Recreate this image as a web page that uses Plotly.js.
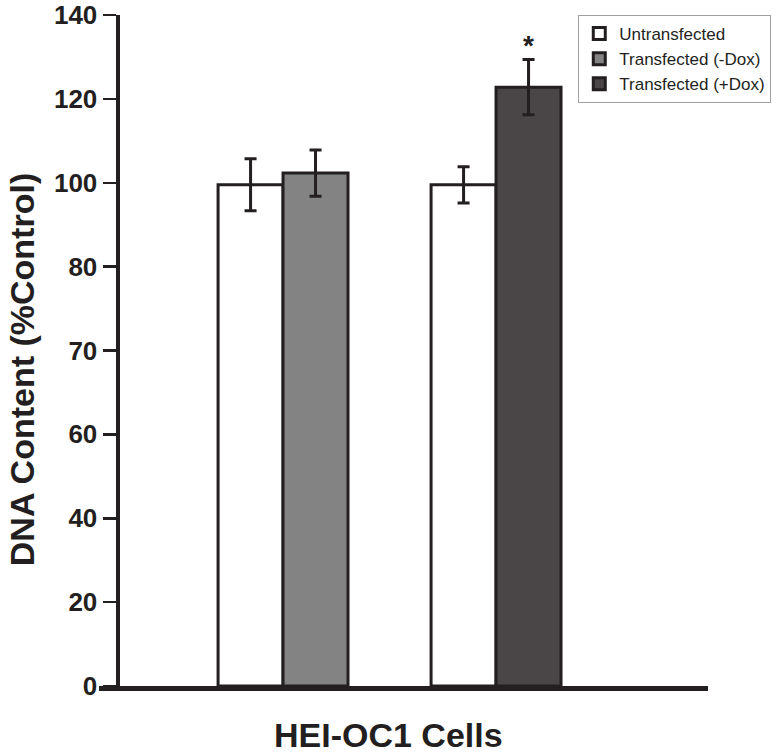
<!DOCTYPE html>
<html>
<head>
<meta charset="utf-8">
<script src="https://cdn.plot.ly/plotly-3.0.1.min.js"></script>
<style>html,body{margin:0;padding:0;background:#fff;}#chart{width:777px;height:755px;}</style>
</head>
<body>
<div id="chart"></div>
<script>
// ---- data ----
const GROUPS = ["Set 1", "Set 2"];
const UNTRANSFECTED = [99.5, 99.5];
const UNTRANSFECTED_ERR = [6.2, 4.3];
const TRANSFECTED_MINUS_DOX = [102.3];
const TRANSFECTED_MINUS_DOX_ERR = [5.5];
const TRANSFECTED_PLUS_DOX = [122.8];
const TRANSFECTED_PLUS_DOX_ERR = [6.6];
const SERIES_NAMES = ["Untransfected", "Transfected (-Dox)", "Transfected (+Dox)"];
// tick labels as printed on the original axis (evenly spaced, top to bottom)
const TICK_LABELS = ["140", "120", "100", "80", "70", "60", "40", "20", "0"];
const SIGNIFICANCE = "*";

// ---- styling ----
const INK = "#231f20";
const AXIS_TOP = 140, TICK_STEP = 20;
const AXIS_FLOOR = AXIS_TOP - TICK_STEP * (TICK_LABELS.length - 1);
const TICK_POS = TICK_LABELS.map((_, i) => AXIS_TOP - TICK_STEP * i);
const BW = 0.305;
const FONT = "Liberation Sans, Arial, sans-serif";

function barTrace(name, xs, vals, errs, fill, offset, grp) {
  return {
    type: "bar", name: name, x: xs,
    y: vals.map(v => v - AXIS_FLOOR), base: AXIS_FLOOR,
    width: BW, offset: offset, legendgroup: grp,
    marker: {color: fill, line: {color: INK, width: 3}},
    error_y: {type: "data", array: errs, visible: true, color: INK, thickness: 3, width: 6},
    hoverinfo: "skip"
  };
}

const traces = [
  barTrace(SERIES_NAMES[0], GROUPS, UNTRANSFECTED, UNTRANSFECTED_ERR, "#ffffff", -BW, "a"),
  barTrace(SERIES_NAMES[1], [GROUPS[0]], TRANSFECTED_MINUS_DOX, TRANSFECTED_MINUS_DOX_ERR, "#838383", 0, "b"),
  barTrace(SERIES_NAMES[2], [GROUPS[1]], TRANSFECTED_PLUS_DOX, TRANSFECTED_PLUS_DOX_ERR, "#4a4546", 0, "c")
];

const layout = {
  width: 777, height: 755,
  margin: {l: 99, r: 69, t: 15, b: 69, autoexpand: false},
  paper_bgcolor: "#fff", plot_bgcolor: "#fff",
  barmode: "overlay",
  showlegend: true,
  font: {family: FONT, color: INK},
  xaxis: {
    type: "category", range: [-0.864, 1.995],
    showline: true, linecolor: INK, linewidth: 4.5,
    showticklabels: false, ticks: "", showgrid: false, zeroline: false, fixedrange: true
  },
  yaxis: {
    range: [AXIS_FLOOR, AXIS_TOP], anchor: "free", position: 0.0304,
    tickvals: TICK_POS, ticktext: TICK_LABELS,
    ticks: "outside", ticklen: 13, tickwidth: 2.5, tickcolor: INK,
    showline: true, linecolor: INK, linewidth: 4.5,
    showgrid: false, zeroline: false,
    tickfont: {family: FONT, size: 26, weight: "bold", color: INK},
    fixedrange: true
  },
  legend: {
    x: 0.787, y: 1.0, xanchor: "left", yanchor: "top",
    bgcolor: "#fff", bordercolor: "#a0a0a0", borderwidth: 1,
    font: {family: FONT, size: 17, color: INK},
    tracegroupgap: 2, traceorder: "normal"
  },
  annotations: [
    {text: "DNA Content (%Control)", textangle: -90, xref: "paper", yref: "paper",
     x: -0.126, y: 0.471, xanchor: "center", yanchor: "middle", showarrow: false,
     font: {family: FONT, size: 34, weight: "bold", color: INK}},
    {text: "HEI-OC1 Cells", xref: "paper", yref: "paper",
     x: 0.476, y: -0.073, xanchor: "center", yanchor: "middle", showarrow: false,
     font: {family: FONT, size: 34, weight: "bold", color: INK}},
    {text: SIGNIFICANCE, xref: "x", yref: "y",
     x: 1 + BW / 2, y: TRANSFECTED_PLUS_DOX[0] + TRANSFECTED_PLUS_DOX_ERR[0],
     xanchor: "center", yanchor: "bottom", showarrow: false, yshift: -4,
     font: {family: FONT, size: 28, weight: "bold", color: INK}}
  ]
};

Plotly.newPlot("chart", traces, layout, {staticPlot: true, displayModeBar: false});
</script>
</body>
</html>
